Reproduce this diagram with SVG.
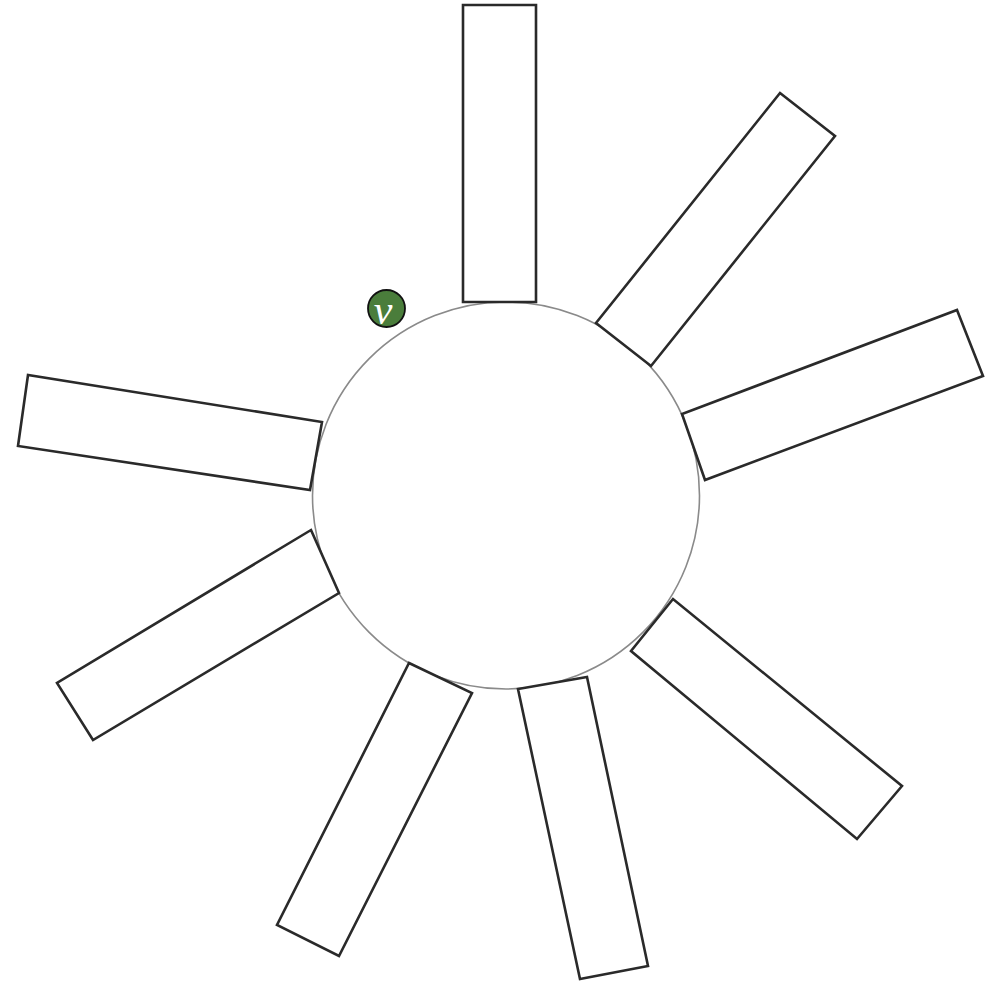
<svg xmlns="http://www.w3.org/2000/svg" width="1002" height="983" viewBox="0 0 1002 983">
<style>
.hub{fill:#fff;stroke:#8a8a8a;stroke-width:1.6}
.arm{fill:#fff;stroke:#2a2a2a;stroke-width:2.6;stroke-linejoin:miter}
.badge{fill:#4a7d3b;stroke:#111;stroke-width:1.8}
.badge-t{fill:#fff;font-family:"Liberation Serif",serif;font-style:italic;font-size:42px;text-anchor:middle}
</style>
<rect width="1002" height="983" fill="#fff"/>
<g id="hub"><circle class="hub" cx="506" cy="495.5" r="193.5"/></g>
<g id="arm1"><polygon class="arm" points="463,5 536,5 536,302 463,302"/></g>
<g id="arm2"><polygon class="arm" points="780,93 835,136 651,366 596,323"/></g>
<g id="arm3"><polygon class="arm" points="957,310 983,376 705,480 682,414"/></g>
<g id="arm4"><polygon class="arm" points="902,786 857,839 631,651 673,599"/></g>
<g id="arm5"><polygon class="arm" points="587,677 648,966 580,979 518,689"/></g>
<g id="arm6"><polygon class="arm" points="409,663 472,693 339,956 277,925"/></g>
<g id="arm7"><polygon class="arm" points="311,530 339,593 93,740 57,683"/></g>
<g id="arm8"><polygon class="arm" points="322,422 310,490 18,446 28,375"/></g>
<g id="badge">
<circle class="badge" cx="386.5" cy="308.5" r="18.5"/>
<text class="badge-t" x="383" y="324">v</text>
</g>
</svg>
